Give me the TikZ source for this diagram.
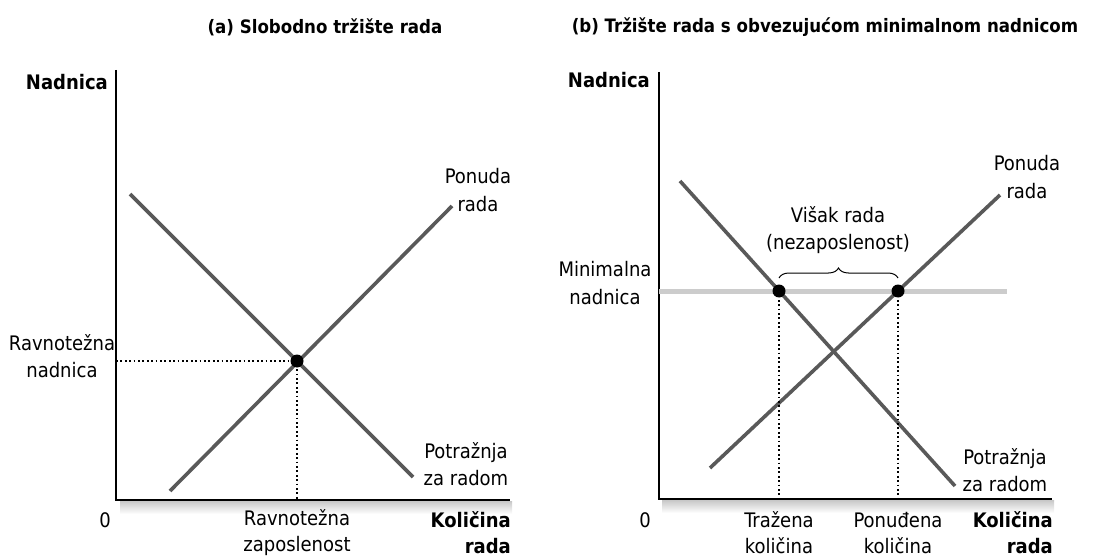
\documentclass[tikz,border=0pt]{standalone}
\usepackage{fontspec}
\setmainfont{DejaVu Sans Condensed}
\usetikzlibrary{decorations.pathreplacing}

\begin{document}
\begin{tikzpicture}[x=1pt, y=-1pt,
    axis/.style={line width=1.6pt},
    curve/.style={line width=3.6pt, draw=black!65},
    floor/.style={line width=5pt, draw=black!20},
    guide/.style={line width=1.8pt, dash pattern=on 1.8pt off 2.6pt},
    dot/.style={circle, fill=black, inner sep=0pt, minimum size=13pt},
    band/.style={top color=black!22, bottom color=white, draw=none},
    lbl/.style={font=\fontsize{20}{27.5}\selectfont, align=center, inner sep=0pt},
    low/.style={font=\fontsize{20}{26}\selectfont, align=center, inner sep=0pt},
    hdr/.style={font=\fontsize{20}{26}\selectfont\bfseries, inner sep=0pt},
    ttl/.style={font=\fontsize{18.5}{22}\selectfont\bfseries, inner sep=0pt}
  ]

  \useasboundingbox (0,0) rectangle (1095,559);

  \node[ttl] (titleA) at (325,27) {(a) Slobodno tržište rada};
  \node[ttl] (titleB) at (825,27) {(b) Tržište rada s obvezujućom minimalnom nadnicom};

  \shade[band] (120,501) rectangle (512,514);
  \shade[band] (662,500) rectangle (1054,513);

  \coordinate (topA) at (116,70);
  \coordinate (oA) at (116,500);
  \coordinate (endA) at (510,500);
  \draw[axis] (topA) -- (oA) -- (endA);

  \coordinate (topB) at (659,72);
  \coordinate (oB) at (659,499);
  \coordinate (endB) at (1052,499);
  \draw[axis] (topB) -- (oB) -- (endB);

  \coordinate (potA1) at (130,194);
  \coordinate (potA2) at (413,477);
  \coordinate (ponA1) at (170,491);
  \coordinate (ponA2) at (452,206);
  \draw[curve] (potA1) -- (potA2);
  \draw[curve] (ponA1) -- (ponA2);

  \coordinate (eA) at (297,361);
  \coordinate (eAy) at (116,361);
  \coordinate (eAx) at (297,500);
  \draw[guide] (eAy) -- (eA) -- (eAx);
  \node[dot] (eqA) at (eA) {};

  \coordinate (minB1) at (659,291);
  \coordinate (minB2) at (1007,291);
  \draw[floor] (minB1) -- (minB2);

  \coordinate (potB1) at (680,181);
  \coordinate (potB2) at (955,486);
  \coordinate (ponB1) at (710,468);
  \coordinate (ponB2) at (1000,195);
  \draw[curve] (potB1) -- (potB2);
  \draw[curve] (ponB1) -- (ponB2);

  \coordinate (tB) at (779,291);
  \coordinate (pB) at (898,291);
  \foreach \q in {tB,pB} {
    \coordinate (\q x) at (\q |- oB);
    \draw[guide] (\q) -- (\q x);
  }
  \node[dot] (trazB) at (tB) {};
  \node[dot] (nudB) at (pB) {};

  \draw[line width=1pt, decorate, decoration={brace, amplitude=10pt}]
    ([yshift=13pt]trazB.center) -- ([yshift=13pt]nudB.center);

  \node[hdr, anchor=east] (nadA) at (108,82) {Nadnica};
  \node[lbl] (ravnA) at (62,356) {Ravnotežna\\nadnica};
  \node[lbl] (ponudaA) at (478,190) {Ponuda\\rada};
  \node[lbl] (potrA) at (466,464) {Potražnja\\za radom};
  \node[low] (nulaA) at (105,520) {0};
  \node[low] (zapA) at (297,533) {Ravnotežna\\zaposlenost};
  \node[hdr, anchor=east, align=right] (kolA) at (511,533) {Količina\\rada};

  \node[hdr, anchor=east] (nadB) at (650,80) {Nadnica};
  \node[lbl] (minB) at (605,283) {Minimalna\\nadnica};
  \node[lbl] (visakB) at (838,230) {Višak rada\\(nezaposlenost)};
  \node[lbl] (ponudaB) at (1027,177) {Ponuda\\rada};
  \node[lbl] (potrB) at (1005,470) {Potražnja\\za radom};
  \node[low] (nulaB) at (645,520) {0};
  \node[low] (trazenaB) at (779,533) {Tražena\\količina};
  \node[low] (ponudjenaB) at (898,533) {Ponuđena\\količina};
  \node[hdr, anchor=east, align=right] (kolB) at (1053,533) {Količina\\rada};

\end{tikzpicture}
\end{document}
